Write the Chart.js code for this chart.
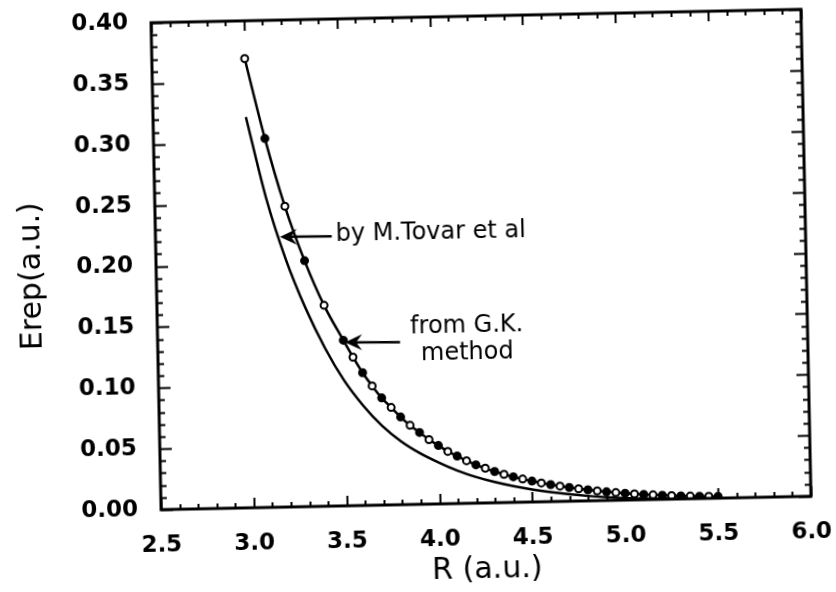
<!DOCTYPE html>
<html>
<head>
<meta charset="utf-8">
<title>Erep vs R</title>
<script src="https://cdn.jsdelivr.net/npm/chart.js@4.4.1/dist/chart.umd.min.js"></script>
<style>
	html, body { margin: 0; padding: 0; background: #fff; }
	/* the scanned figure sits a little tilted */
	#wrap { width: 836px; height: 592px; transform: rotate(-1.18deg); transform-origin: 481px 259.5px; }
</style>
</head>
<body>
<div id="wrap"><canvas id="myChart" width="836" height="592"></canvas></div>
<script>
//Data

const gkR = [3.0, 3.1, 3.2, 3.3, 3.4, 3.5, 3.55, 3.6, 3.65, 3.7, 3.75, 3.8, 3.85, 3.9, 3.95,
	4.0, 4.05, 4.1, 4.15, 4.2, 4.25, 4.3, 4.35, 4.4, 4.45, 4.5, 4.55, 4.6, 4.65, 4.7, 4.75,
	4.8, 4.85, 4.9, 4.95, 5.0, 5.05, 5.1, 5.15, 5.2, 5.25, 5.3, 5.35, 5.4, 5.45, 5.5];
const gkErep = [0.369, 0.303, 0.247, 0.202, 0.165, 0.136, 0.122, 0.109, 0.098, 0.088, 0.080, 0.072, 0.065, 0.059, 0.053,
	0.048, 0.043, 0.039, 0.035, 0.0315, 0.0285, 0.0257, 0.0232, 0.021, 0.019, 0.0172, 0.0155, 0.014, 0.0126, 0.0113, 0.0101,
	0.009, 0.008, 0.0071, 0.0063, 0.0056, 0.0049, 0.0043, 0.0038, 0.0033, 0.0029, 0.0025, 0.0022, 0.0019, 0.0016, 0.0014];

const tovarR = [3.0, 3.1, 3.2, 3.3, 3.4, 3.5, 3.6, 3.7, 3.8, 3.9, 4.0, 4.1, 4.2, 4.3, 4.4,
	4.5, 4.6, 4.7, 4.8, 4.9, 5.0, 5.1, 5.2, 5.3, 5.4, 5.5];
const tovarErep = [0.321, 0.254, 0.203, 0.163, 0.130, 0.103, 0.082, 0.065, 0.052, 0.042, 0.034, 0.027, 0.0215, 0.017, 0.0133,
	0.0103, 0.0078, 0.0057, 0.004, 0.0027, 0.0017, 0.001, 0.0006, 0.0003, 0.0002, 0.0001];

const xTicks = [2.5, 3.0, 3.5, 4.0, 4.5, 5.0, 5.5, 6.0];
const yTicks = [0.00, 0.05, 0.10, 0.15, 0.20, 0.25, 0.30, 0.35, 0.40];

//Frame with inward ticks on all four sides

const frameTicks = {
	id: 'frameTicks',
	afterDatasetsDraw(chart) {
		const { ctx, chartArea: a, scales: { x, y } } = chart;
		ctx.save();
		ctx.strokeStyle = '#000';
		ctx.lineCap = 'butt';
		ctx.lineWidth = 2;
		ctx.beginPath();
		// x: minor every 0.1
		for (let i = 0; i <= 35; i++) {
			let v = 2.5 + i * 0.1;
			let px = Math.round(x.getPixelForValue(v)) + 0.5;
			let len = i % 5 === 0 ? 10 : 5;
			ctx.moveTo(px, a.bottom); ctx.lineTo(px, a.bottom - len);
			ctx.moveTo(px, a.top); ctx.lineTo(px, a.top + len);
		}
		// y: minor every 0.01
		for (let i = 0; i <= 40; i++) {
			let v = i * 0.01;
			let py = Math.round(y.getPixelForValue(v)) + 0.5;
			let len = i % 5 === 0 ? 12 : 6;
			ctx.moveTo(a.left, py); ctx.lineTo(a.left + len, py);
			ctx.moveTo(a.right, py); ctx.lineTo(a.right - len, py);
		}
		ctx.stroke();
		ctx.lineWidth = 3;
		ctx.strokeRect(a.left, a.top, a.width, a.height);
		ctx.restore();
	}
};

//Labels with arrows

function arrow(ctx, x1, y1, x2, y2) {
	let ang = Math.atan2(y2 - y1, x2 - x1);
	ctx.beginPath();
	ctx.moveTo(x1, y1);
	ctx.lineTo(x2 - 8 * Math.cos(ang), y2 - 8 * Math.sin(ang));
	ctx.stroke();
	ctx.save();
	ctx.translate(x2, y2);
	ctx.rotate(ang);
	ctx.beginPath();
	ctx.moveTo(0, 0);
	ctx.lineTo(-17, -8);
	ctx.lineTo(-11, 0);
	ctx.lineTo(-17, 8);
	ctx.closePath();
	ctx.fill();
	ctx.restore();
}

const notes = {
	id: 'notes',
	afterDraw(chart) {
		const { ctx, scales: { x, y } } = chart;
		ctx.save();
		ctx.strokeStyle = '#000';
		ctx.fillStyle = '#000';
		ctx.lineWidth = 2.5;
		arrow(ctx, x.getPixelForValue(3.449), y.getPixelForValue(0.2215), x.getPixelForValue(3.17), y.getPixelForValue(0.222));
		arrow(ctx, x.getPixelForValue(3.805), y.getPixelForValue(0.1335), x.getPixelForValue(3.509), y.getPixelForValue(0.1343));
		ctx.font = '24px "DejaVu Sans"';
		ctx.textBaseline = 'middle';
		ctx.textAlign = 'left';
		ctx.fillText('by M.Tovar et al', x.getPixelForValue(3.47), y.getPixelForValue(0.2225));
		ctx.textAlign = 'center';
		ctx.fillText('from G.K.', x.getPixelForValue(4.166), y.getPixelForValue(0.1455));
		ctx.fillText('method', x.getPixelForValue(4.166), y.getPixelForValue(0.1235));
		ctx.restore();
	}
};

//Build chart

const ctx = document.getElementById('myChart').getContext('2d');
const myChart = new Chart(ctx, {
	type: 'scatter',
	data: {
		datasets: [{
			label: 'from G.K. method',
			data: gkR.map((r, i) => ({ x: r, y: gkErep[i] })),
			showLine: true,
			borderColor: '#000',
			borderWidth: 2.5,
			cubicInterpolationMode: 'monotone',
			pointRadius: 3.5,
			pointBorderWidth: 2,
			pointBorderColor: '#000',
			pointBackgroundColor: (c) => c.dataIndex % 2 ? '#000' : '#fff'
		}, {
			label: 'by M.Tovar et al',
			data: tovarR.map((r, i) => ({ x: r, y: tovarErep[i] })),
			showLine: true,
			borderColor: '#000',
			borderWidth: 2.5,
			cubicInterpolationMode: 'monotone',
			pointRadius: 0
		}]
	},
	options: {
		responsive: false,
		animation: false,
		layout: { padding: { top: 16, right: 30, left: 0, bottom: 0 } },
		plugins: {
			legend: { display: false },
			tooltip: { enabled: false }
		},
		scales: {
			x: {
				type: 'linear',
				min: 2.5,
				max: 6.0,
				// keep the plot box fixed, labels may overhang
				afterFit: (s) => { s.height = 89; s.paddingLeft = 0; s.paddingRight = 0; },
				afterBuildTicks: (s) => { s.ticks = xTicks.map(v => ({ value: v })); },
				grid: { display: false, drawTicks: false },
				border: { display: false },
				ticks: {
					padding: 22,
					color: '#000',
					font: { family: 'DejaVu Sans', size: 23, weight: 'bold' },
					callback: (v) => Number(v).toFixed(1)
				},
				title: {
					display: true,
					text: 'R (a.u.)',
					color: '#000',
					font: { family: 'DejaVu Sans', size: 30 },
					padding: { top: 0, bottom: 4 }
				}
			},
			y: {
				type: 'linear',
				min: 0,
				max: 0.4,
				afterFit: (s) => { s.width = 156; s.paddingTop = 0; s.paddingBottom = 0; },
				afterBuildTicks: (s) => { s.ticks = yTicks.map(v => ({ value: v })); },
				grid: { display: false, drawTicks: false },
				border: { display: false },
				ticks: {
					padding: 23,
					color: '#000',
					font: { family: 'DejaVu Sans', size: 23, weight: 'bold' },
					callback: (v) => Number(v).toFixed(2)
				},
				title: {
					display: true,
					text: 'Erep(a.u.)\u2002',
					color: '#000',
					font: { family: 'DejaVu Sans', size: 30 },
					padding: { top: 14, bottom: 0 }
				}
			}
		}
	},
	plugins: [frameTicks, notes]
});
</script>
</body>
</html>
